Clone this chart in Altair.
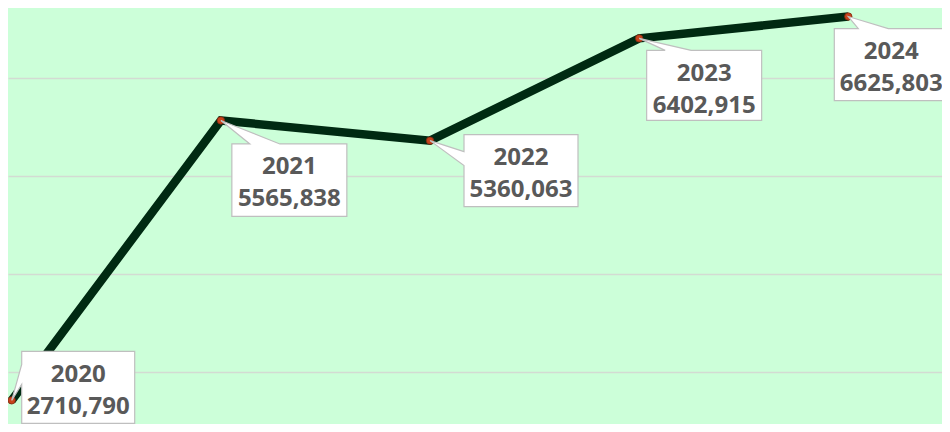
import altair as alt
import pandas as pd

# ---- data ----
YEARS = [2020, 2021, 2022, 2023, 2024]
VALUES = [2710.790, 5565.838, 5360.063, 6402.915, 6625.803]
VALUE_LABELS = [f"{v:.3f}".replace(".", ",") for v in VALUES]
GRID_VALUES = [3000, 4000, 5000, 6000]

df = pd.DataFrame({"year": YEARS, "value": VALUES, "label": VALUE_LABELS,
                   "ylabel": [str(y) for y in YEARS]})

# ---- callout layout (pixel offsets relative to each point) ----
# L, R, T, B of the box; tail side and its two attach coordinates
CALLOUTS = [
    dict(L=10, R=123, T=-49, B=23, side="left", a=-36, b=-16),
    dict(L=11, R=126, T=23.5, B=96, side="top", a=29, b=59),
    dict(L=34, R=148, T=-6, B=66, side="left", a=11, b=25),
    dict(L=7.5, R=122.5, T=12, B=82, side="top", a=26, b=52),
    dict(L=-14, R=100, T=12, B=84, side="top", a=10, b=40),
]


def callout_path(c):
    L, R, T, B, a, b = c["L"], c["R"], c["T"], c["B"], c["a"], c["b"]
    if c["side"] == "top":
        pts = [(0, 0), (a, T), (L, T), (L, B), (R, B), (R, T), (b, T)]
    else:
        pts = [(0, 0), (L, a), (L, T), (R, T), (R, B), (L, B), (L, b)]
    return "M" + " L".join(f"{x},{y}" for x, y in pts) + " Z"


X_DOMAIN = [2019.9823, 2024.448]
Y_DOMAIN = [2469.4, 6713]

x_enc = alt.X("year:Q", scale=alt.Scale(domain=X_DOMAIN, nice=False, zero=False), axis=None)
y_enc = alt.Y("value:Q", scale=alt.Scale(domain=Y_DOMAIN, nice=False, zero=False),
              axis=alt.Axis(values=GRID_VALUES, grid=True, labels=False, ticks=False,
                            domain=False, title=None, gridColor="#d3dbd3", gridWidth=1.6))

base = alt.Chart(df).encode(x=x_enc, y=y_enc)

line = base.mark_line(color="#002a12", strokeWidth=8.5, strokeCap="butt", strokeJoin="miter")
dots = base.mark_circle(color="#c8421c", size=55, opacity=1, stroke="#7a2a10", strokeWidth=0.8)

layers = [line, dots]
TEXT_STYLE = dict(font="Open Sans", fontWeight="bold", fontSize=24, color="#595959",
                  align="center", baseline="middle")
for i, c in enumerate(CALLOUTS):
    sub = base.transform_filter(alt.datum.year == YEARS[i])
    shape = sub.mark_point(shape=callout_path(c), size=4, filled=True, fill="white",
                           fillOpacity=1, opacity=1, stroke="#bfbfbf", strokeWidth=1.2)
    cx = (c["L"] + c["R"]) / 2
    t_year = sub.mark_text(dx=cx, dy=c["T"] + 23.5, **TEXT_STYLE).encode(text="ylabel:N")
    t_val = sub.mark_text(dx=cx, dy=c["T"] + 55.5, **TEXT_STYLE).encode(text="label:N")
    layers += [shape, t_year, t_val]

chart = alt.layer(*layers).properties(
    width=934, height=416, padding=0, autosize="none", background="#ccffd9"
).configure_view(stroke=None, fill="#ccffd9")

chart.save("out.html", embed_options={"renderer": "svg", "actions": False})
